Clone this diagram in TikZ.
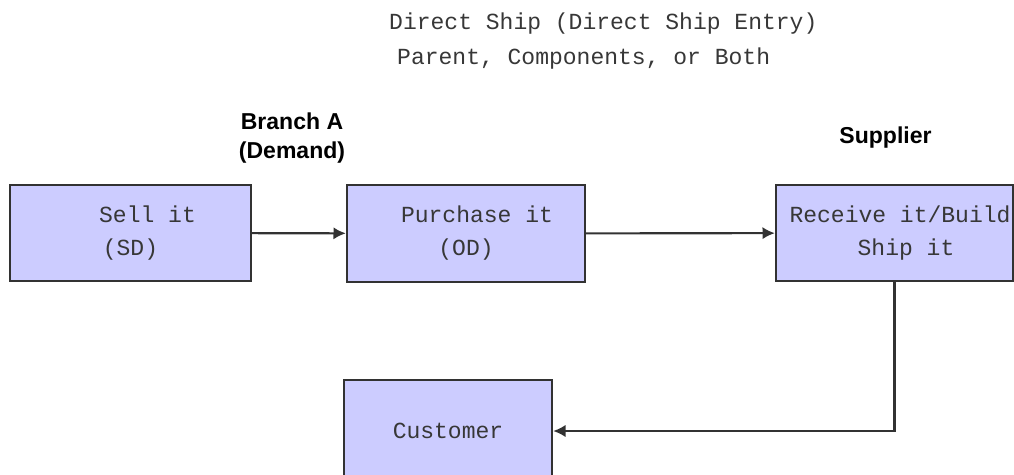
\documentclass[tikz,border=0pt]{standalone}
\usepackage{fontspec}
\setmainfont{Liberation Sans}
\setsansfont{Liberation Sans}
\setmonofont{Liberation Mono}
\usetikzlibrary{arrows.meta}
\definecolor{boxfill}{RGB}{204,204,255}
\definecolor{boxline}{RGB}{50,50,50}
\definecolor{txt}{RGB}{55,55,55}
\begin{document}
\begin{tikzpicture}[x=0.02cm,y=-0.02cm,
  stage/.style={draw=boxline,line width=1.4pt,fill=boxfill,inner sep=0pt,align=center,
    font=\ttfamily\fontsize{13.1}{18.8}\selectfont,text=txt},
  site/.style={font=\sffamily\bfseries\fontsize{13.1}{17}\selectfont,align=center},
  flow/.style={draw=boxline,line width=1.2pt,-{Latex[length=7pt,width=7pt]}}]
  \useasboundingbox (0,0) rectangle (1014,474);
  \node[anchor=west,align=left,text=txt,font=\ttfamily\fontsize{13.1}{19.9}\selectfont] (title) at (383,41) {Direct Ship (Direct Ship Entry)\\\hspace*{0.16cm}Parent, Components, or Both};
  \node[site] (branch) at (292,138) {Branch A\\(Demand)};
  \node[site] (supplier) at (885.5,138) {Supplier};
  \node[stage,minimum width=4.82cm,minimum height=1.92cm] (sell) at (130.5,233) {\hspace*{0.68cm}Sell it\\(SD)};
  \node[stage,minimum width=4.76cm,minimum height=1.94cm] (purchase) at (466,233.5) {\hspace*{0.44cm}Purchase it\\(OD)};
  \node[stage,minimum width=4.74cm,minimum height=1.92cm] (receive) at (894.5,233) {\hspace*{0.22cm}Receive it/Build\\\hspace*{0.46cm}Ship it};
  \node[stage,minimum width=4.16cm,minimum height=2.04cm] (customer) at (448,431) {Customer};
  \draw[flow] (sell) -- (purchase);
  \draw[flow] (purchase) -- (receive);
  \draw[flow] (receive.south) |- (customer.east);
\end{tikzpicture}
\end{document}
